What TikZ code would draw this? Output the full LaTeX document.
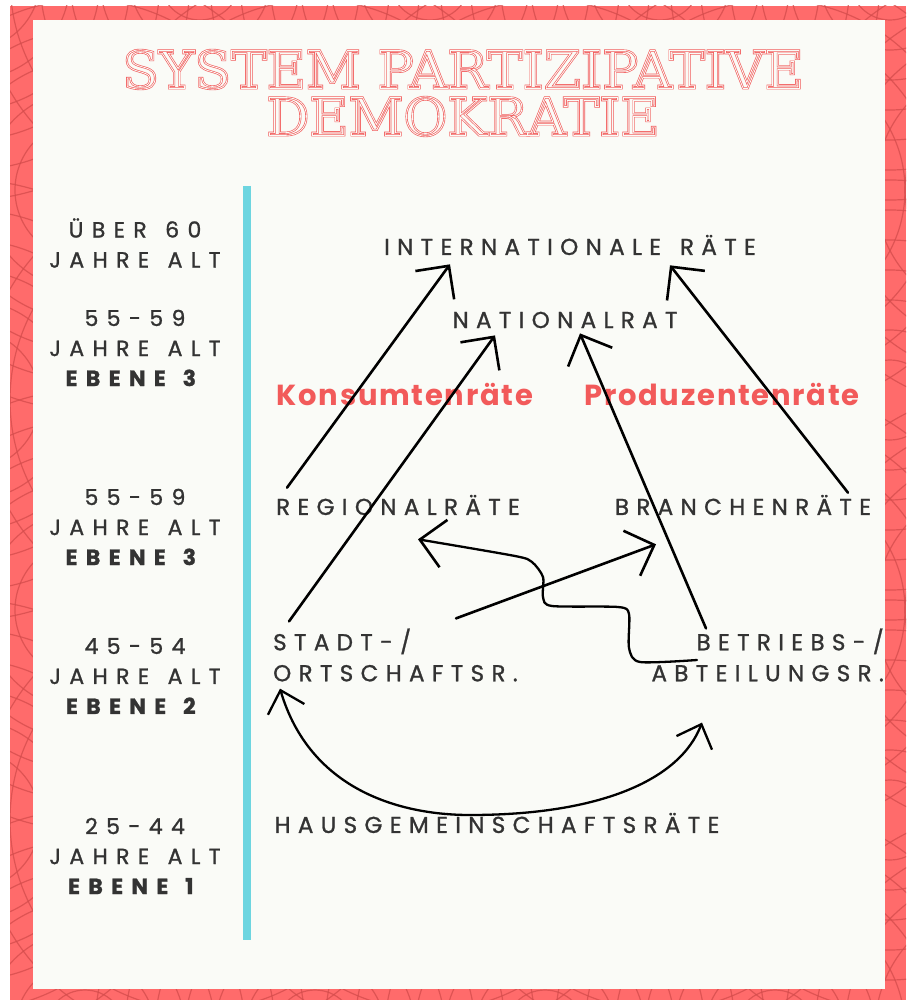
\documentclass[tikz,border=0pt]{standalone}
\usepackage{fontspec}
\setmainfont{Poppins}
\newfontfamily\titelfont[FakeStretch=1.03]{DejaVu Serif}
\newfontfamily\stufefont[LetterSpace=38,WordSpace=1.3,FakeBold=1.1]{Poppins}
\newfontfamily\ratfont[LetterSpace=32,WordSpace=1.4,FakeBold=1.1]{Poppins}
\newfontfamily\lagerfont[LetterSpace=6]{Poppins}
\usetikzlibrary{arrows.meta,calc}
\definecolor{rahmen}{HTML}{FF6B6B}
\definecolor{muster}{HTML}{D44C4C}
\definecolor{papier}{HTML}{FAFBF7}
\definecolor{titelrot}{HTML}{F25A5A}
\definecolor{balken}{HTML}{6DD5E0}
\definecolor{schrift}{HTML}{333333}
\newcommand{\umriss}[1]{\special{pdf:literal direct 1 Tr #1 w}}
\newcommand{\voll}{\special{pdf:literal direct 0 Tr}}
\newcommand{\titeltext}{SYSTEM PARTIZIPATIVE\\DEMOKRATIE}
\tikzset{
  titel/.style={font=\titelfont\fontsize{52}{47}\selectfont, align=center, inner sep=0pt},
  stufe/.style={font=\stufefont\fontsize{22}{30}\selectfont, text=schrift, align=center, inner sep=0pt},
  rat/.style={font=\ratfont\fontsize{23}{31}\selectfont, text=schrift, inner sep=0pt},
  lager/.style={font=\lagerfont\bfseries\fontsize{29}{30}\selectfont, text=titelrot, inner sep=0pt},
  pfeil/.style={line width=2.6pt, line cap=round, line join=round, -{Straight Barb[length=24pt,width=48pt,line width=2.6pt]}},
  bogen/.style={line width=2.3pt, line cap=round, {Straight Barb[length=20pt,width=38pt,line width=2.3pt]}-{Straight Barb[length=20pt,width=38pt,line width=2.3pt]}}
}
\begin{document}
\begin{tikzpicture}[x=1pt,y=-1pt]
\useasboundingbox (0,0) rectangle (910,1000);
\fill[white] (0,0) rectangle (910,1000);
% Rahmen mit Bogenmuster
\fill[rahmen] (10,6) rectangle (906,1000);
\begin{scope}
\clip (10,6) rectangle (906,1000);
\foreach \i in {0,...,4}
  \foreach \j in {0,...,5}
    \foreach \r in {40,70,...,220}
      \draw[muster, line width=1.2pt, opacity=0.75] ({\i*230-30+mod(\j,2)*115},{\j*210-20}) circle[radius=\r];
\end{scope}
\fill[papier] (33,20) rectangle (885,989);
\draw[line width=8pt, balken] (247,186) -- (247,940);

\node[titel, text=titelrot] (titel) at (463,93) {\umriss{2.1}\titeltext\voll};
\node[titel, text=papier] at (titel) {\umriss{0.8}\titeltext\voll};

% Altersstufen
\node[stufe] (s60) at (135,243) {ÜBER 60\\JAHRE ALT};
\node[stufe] (s59a) at (135,348) {55-59\\JAHRE ALT\\\textbf{EBENE 3}};
\node[stufe] (s59b) at (135,527) {55-59\\JAHRE ALT\\\textbf{EBENE 3}};
\node[stufe] (s54) at (135,676) {45-54\\JAHRE ALT\\\textbf{EBENE 2}};
\node[stufe] (s44) at (135,856) {25-44\\JAHRE ALT\\\textbf{EBENE 1}};

% Raete
\node[rat] (inter) at (570,245) {INTERNATIONALE RÄTE};
\node[rat] (national) at (565,320) {NATIONALRAT};
\node[lager] (konsum) at (405,394) {Konsumtenräte};
\node[lager] (produzent) at (722,394) {Produzentenräte};
\node[rat] (regional) at (398,505) {REGIONALRÄTE};
\node[rat] (branchen) at (743,505) {BRANCHENRÄTE};
\node[rat, align=left, anchor=west] (stadt) at (273,655) {STADT-/\\ORTSCHAFTSR.};
\node[rat, align=right, anchor=east] (betrieb) at (884,655) {BETRIEBS-/\\ABTEILUNGSR.};
\node[rat] (haus) at (497,823) {HAUSGEMEINSCHAFTSRÄTE};

\draw[pfeil] ($(regional.north)+(-111,-7)$) -- ($(inter.south)+(-120,9)$);
\draw[pfeil] ($(stadt.north west)+(16,-7)$) -- ($(national.south)+(-70,7)$);
\draw[pfeil] ($(betrieb.north east)+(-178,0)$) -- ($(national.south)+(15,5)$);
\draw[pfeil] ($(branchen.north)+(105,-2)$) -- ($(inter.south)+(100,10)$);
\draw[pfeil] ($(stadt.north west)+(183,-10)$) -- ($(branchen.south)+(-87,29)$);
\coordinate (wstart) at ($(betrieb.east)+(-187,5)$);
\coordinate (wziel) at ($(regional.south)+(20,24)$);
\draw[pfeil, line width=2.3pt] plot[smooth, tension=0.45] coordinates {(wstart) (640,662) (629,648) (629,614) (618,607) (552,606) (543,597) (543,577) (532,562) (515,556) (wziel)};
\draw[bogen] ($(stadt.south west)+(7,7)$) .. controls (310,790) and (400,815) .. (470,815) .. controls (600,815) and (680,780) .. ($(betrieb.south east)+(-182,41)$);
\end{tikzpicture}
\end{document}
